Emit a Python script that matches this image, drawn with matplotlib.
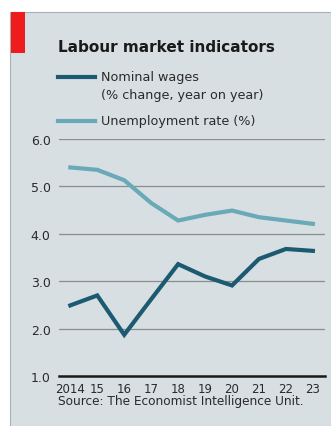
import matplotlib
matplotlib.use("Agg")
import matplotlib.pyplot as plt
from matplotlib.patches import Rectangle
from matplotlib.lines import Line2D

years = [2014, 2015, 2016, 2017, 2018, 2019, 2020, 2021, 2022, 2023]
year_labels = ["2014", "15", "16", "17", "18", "19", "20", "21", "22", "23"]
nominal_wages = [2.49, 2.70, 1.87, 2.62, 3.36, 3.10, 2.91, 3.47, 3.68, 3.64]
unemployment = [5.40, 5.35, 5.13, 4.65, 4.28, 4.40, 4.49, 4.35, 4.28, 4.21]
y_ticks = [1.0, 2.0, 3.0, 4.0, 5.0, 6.0]

W, H = 331, 427
bg = "#d7dfe2"
dark = "#1b5a70"
light = "#6aa9b7"
plt.rcParams["font.family"] = ["DejaVu Sans"]

fig = plt.figure(figsize=(W / 100, H / 100), dpi=100)
fig.patch.set_facecolor("white")

def fx(px):
    return px / W

def fy(py):
    return 1 - py / H

# panel background with thin border
fig.patches.append(Rectangle((fx(10), 0), 1 - fx(10), fy(13), transform=fig.transFigure,
                             facecolor=bg, edgecolor="#a9b0b3", linewidth=0.8, zorder=-2))
# red tag
fig.patches.append(Rectangle((fx(11), fy(54)), fx(14), fy(13) - fy(54), transform=fig.transFigure,
                             facecolor="#ee1c1c", edgecolor="none", zorder=-1))

fig.text(fx(58), fy(47), "Labour market indicators", fontsize=11, fontweight="bold",
         color="#1a1a1a", va="center", ha="left")

# legend
for y_px, col in [(78, dark), (122, light)]:
    fig.add_artist(Line2D([fx(58), fx(95)], [fy(y_px), fy(y_px)], color=col, linewidth=3,
                          transform=fig.transFigure))
fig.text(fx(101), fy(78), "Nominal wages", fontsize=9.2, color="#2a2a2a", va="center")
fig.text(fx(101), fy(95), "(% change, year on year)", fontsize=9.2, color="#2a2a2a", va="center")
fig.text(fx(101), fy(122), "Unemployment rate (%)", fontsize=9.2, color="#2a2a2a", va="center")

ax = fig.add_axes([fx(59), fy(377), fx(325) - fx(59), fy(140) - fy(377)])
ax.set_facecolor("none")
ax.set_zorder(2)
ax.set_xlim(2013.58, 2023.45)
ax.set_ylim(1.0, 6.0)

for v in y_ticks[1:]:
    ax.axhline(v, color="#8a8d8e", linewidth=0.9, zorder=1)
ax.axhline(1.0, color="#1a1a1a", linewidth=1.8, zorder=3, clip_on=False)

ax.plot(years, unemployment, color=light, linewidth=3, solid_joinstyle="miter", zorder=4)
ax.plot(years, nominal_wages, color=dark, linewidth=3, solid_joinstyle="miter", zorder=4)

for s in ax.spines.values():
    s.set_visible(False)
ax.set_yticks(y_ticks)
ax.set_yticklabels([f"{v:.1f}" for v in y_ticks])
ax.set_xticks(years)
ax.set_xticklabels(year_labels)
ax.tick_params(axis="both", length=0, labelcolor="#2a2a2a")
ax.tick_params(axis="y", pad=6, labelsize=9)
ax.tick_params(axis="x", pad=4, labelsize=8.5)

fig.text(fx(58), fy(402), "Source: The Economist Intelligence Unit.", fontsize=8.7,
         color="#2a2a2a", va="center", ha="left")

fig.savefig("out.png", dpi=100, facecolor=fig.get_facecolor())
